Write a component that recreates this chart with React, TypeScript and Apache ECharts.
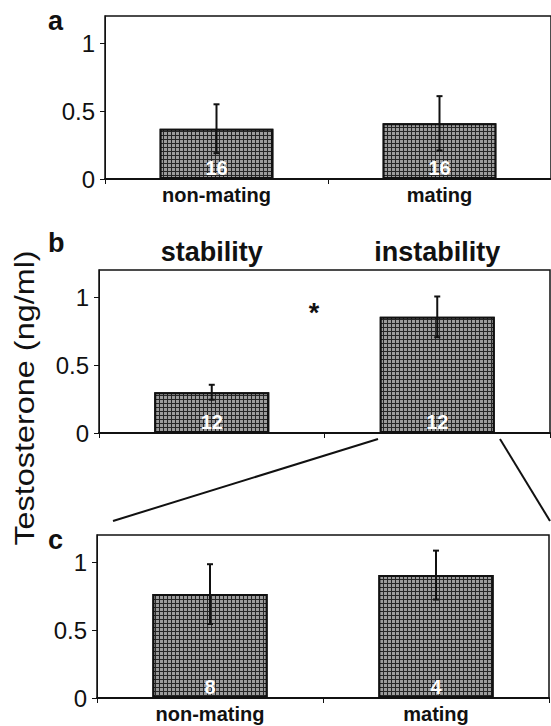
import React, { useEffect, useRef } from "react";
import * as echarts from "echarts";

const catsAC = ["non-mating", "mating"];
const catsB = ["stability", "instability"];

const meanA = [0.37, 0.41];
const seA = [0.18, 0.2];
const nA = [16, 16];

const meanB = [0.3, 0.855];
const seB = [0.055, 0.15];
const nB = [12, 12];

const meanC = [0.765, 0.905];
const seC = [0.22, 0.18];
const nC = [8, 4];

const yTicks = [0, 0.5, 1];

const FONT = "'Liberation Sans', Arial, Helvetica, sans-serif";
const INK = "#111";

function errData(mean: number[], se: number[]) {
  return mean.map((m, i) => [i, m + se[i], m - se[i]]);
}

function renderErr(params: any, api: any) {
  const hi = api.coord([api.value(0), api.value(1)]);
  const lo = api.coord([api.value(0), api.value(2)]);
  const w = 3;
  const st = { stroke: INK, lineWidth: 2 };
  return {
    type: "group",
    children: [
      { type: "line", shape: { x1: hi[0], y1: hi[1], x2: lo[0], y2: lo[1] }, style: st },
      { type: "line", shape: { x1: hi[0] - w, y1: hi[1], x2: hi[0] + w, y2: hi[1] }, style: st },
      { type: "line", shape: { x1: lo[0] - w, y1: lo[1], x2: lo[0] + w, y2: lo[1] }, style: st },
    ],
  };
}

function barSeries(xi: number, yi: number, mean: number[], n: number[]) {
  return {
    type: "bar",
    xAxisIndex: xi,
    yAxisIndex: yi,
    data: mean,
    barWidth: "51%",
    itemStyle: {
      color: "#262626",
      borderColor: INK,
      borderWidth: 2,
      decal: {
        symbol: "rect",
        symbolSize: 1,
        color: "#9c9c9c",
        dashArrayX: [3, 1],
        dashArrayY: [3, 1],
        rotation: 0,
      },
    },
    label: {
      show: true,
      position: "insideBottom",
      distance: 1,
      formatter: (p: any) => String(n[p.dataIndex]),
      color: "#fff",
      fontSize: 20,
      lineHeight: 20,
      fontWeight: "bold",
      fontFamily: FONT,
    },
    z: 2,
  };
}

function errSeries(xi: number, yi: number, mean: number[], se: number[]) {
  return {
    type: "custom",
    xAxisIndex: xi,
    yAxisIndex: yi,
    data: errData(mean, se),
    renderItem: renderErr,
    z: 5,
  };
}

function xAxisBottom(gi: number, data: string[], showLabel: boolean) {
  return {
    gridIndex: gi,
    type: "category",
    data,
    axisLine: { show: true, lineStyle: { color: INK, width: 2 } },
    axisTick: { show: true, length: 5, lineStyle: { color: INK, width: 1 } },
    axisLabel: {
      show: showLabel,
      color: INK,
      fontSize: 20,
      fontWeight: "bold",
      fontFamily: FONT,
      margin: 6,
    },
    splitLine: { show: false },
  };
}

function yAxis(gi: number) {
  return {
    gridIndex: gi,
    type: "value",
    min: 0,
    max: 1.2,
    interval: 0.5,
    axisLine: { show: true, lineStyle: { color: INK, width: 1 } },
    axisTick: { show: true, length: 5, customValues: yTicks, lineStyle: { color: INK, width: 1 } },
    axisLabel: {
      customValues: yTicks,
      color: INK,
      fontSize: 24,
      fontFamily: FONT,
      margin: 10,
      formatter: (v: number) => (v > 1.05 ? "" : String(v)),
    },
    splitLine: { show: false },
  };
}

const gridStyle = { show: true, borderColor: INK, borderWidth: 1.5, backgroundColor: "transparent" };

const letterStyle = (t: string) => ({
  text: t,
  fontSize: 27,
  fontWeight: "bold",
  fontFamily: FONT,
  fill: INK,
  textAlign: "left",
  textVerticalAlign: "middle",
});

export default function App() {
  const ref = useRef<HTMLDivElement>(null);
  useEffect(() => {
    if (!ref.current) return;
    const chart = echarts.init(ref.current, null, { renderer: "svg" });
    const option: any = {
      animation: false,
      backgroundColor: "#fff",
      grid: [
        { left: 105, top: 16, width: 446, height: 163, ...gridStyle },
        { left: 99, top: 270, width: 451, height: 163, ...gridStyle },
        { left: 97, top: 535, width: 452, height: 163, ...gridStyle },
      ],
      xAxis: [
        xAxisBottom(0, catsAC, true),
        xAxisBottom(1, catsB, false),
        {
          gridIndex: 1,
          type: "category",
          position: "top",
          data: catsB,
          axisLine: { show: false },
          axisTick: { show: false },
          axisLabel: { color: INK, fontSize: 27, fontWeight: "bold", fontFamily: FONT, margin: 5 },
          splitLine: { show: false },
        },
        xAxisBottom(2, catsAC, true),
      ],
      yAxis: [yAxis(0), yAxis(1), yAxis(2)],
      series: [
        barSeries(0, 0, meanA, nA),
        errSeries(0, 0, meanA, seA),
        barSeries(1, 1, meanB, nB),
        errSeries(1, 1, meanB, seB),
        barSeries(3, 2, meanC, nC),
        errSeries(3, 2, meanC, seC),
      ],
      graphic: [
        { type: "text", x: 48, y: 21, style: letterStyle("a") },
        { type: "text", x: 48, y: 243, style: letterStyle("b") },
        { type: "text", x: 48, y: 540, style: letterStyle("c") },
        {
          type: "text",
          x: 314,
          y: 313,
          style: { text: "*", fontSize: 27, fontWeight: "bold", fontFamily: FONT, fill: INK, textAlign: "center", textVerticalAlign: "middle" },
        },
        {
          type: "text",
          x: 24,
          y: 398,
          rotation: Math.PI / 2,
          scaleX: 1.2,
          style: {
            text: "Testosterone (ng/ml)",
            fontSize: 27,
            fontFamily: FONT,
            fill: INK,
            textAlign: "center",
            textVerticalAlign: "middle",
          },
        },
        { type: "line", shape: { x1: 378, y1: 439, x2: 113, y2: 521 }, style: { stroke: INK, lineWidth: 2 } },
        { type: "line", shape: { x1: 500, y1: 439, x2: 550, y2: 521 }, style: { stroke: INK, lineWidth: 2 } },
      ],
    };
    chart.setOption(option);
    return () => chart.dispose();
  }, []);
  return <div ref={ref} style={{ position: "absolute", left: 0, top: 0, width: 551, height: 726 }} />;
}
